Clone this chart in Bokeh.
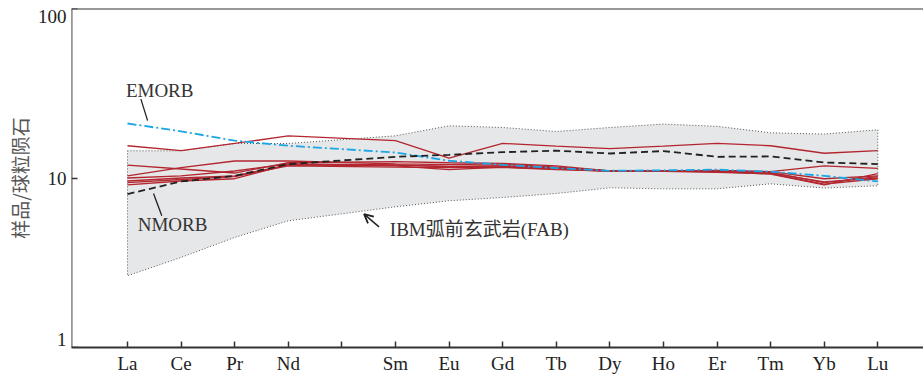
from bokeh.plotting import figure
from bokeh.models import FixedTicker, Span, Label, Arrow, OpenHead, LinearAxis, Range1d, LinearScale
from bokeh.embed import file_html
from bokeh.resources import INLINE

# ---- data -------------------------------------------------------------
elements = ["La", "Ce", "Pr", "Nd", "Pm", "Sm", "Eu", "Gd", "Tb", "Dy", "Ho", "Er", "Tm", "Yb", "Lu"]
ree = ["La", "Ce", "Pr", "Nd", "Sm", "Eu", "Gd", "Tb", "Dy", "Ho", "Er", "Tm", "Yb", "Lu"]
tick_labels = ["" if e == "Pm" else e for e in elements]
y_ticks = [1, 10, 100]
y_tick_labels = ["1", "10", "100"]

sample_1 = [15.5, 14.5, 16.0, 17.7, 16.6, 13.1, 16.0, 15.4, 14.9, 15.4, 16.0, 15.5, 14.0, 14.5]
sample_2 = [11.9, 11.3, 10.7, 12.3, 12.5, 12.3, 12.2, 11.8, 11.0, 11.0, 11.1, 10.9, 11.8, 11.4]
sample_3 = [10.3, 11.5, 12.6, 12.6, 12.1, 12.0, 12.1, 11.6, 11.0, 11.0, 11.0, 10.9, 9.9, 10.3]
sample_4 = [10.0, 10.3, 11.0, 12.1, 11.95, 11.65, 11.8, 11.5, 11.0, 11.0, 10.9, 10.7, 9.5, 10.0]
sample_5 = [9.6, 10.0, 10.3, 11.95, 11.8, 11.2, 11.6, 11.3, 10.95, 10.95, 10.8, 10.6, 9.2, 9.9]
sample_6 = [9.4, 9.8, 10.2, 11.8, 11.6, 11.5, 11.55, 11.2, 11.0, 11.0, 10.9, 10.55, 9.1, 10.6]
sample_7 = [9.1, 9.6, 9.9, 12.0, 11.9, 11.7, 11.8, 11.4, 11.0, 11.0, 11.0, 10.8, 9.4, 10.2]
samples = [sample_1, sample_2, sample_3, sample_4, sample_5, sample_6, sample_7]

nmorb = [8.04, 9.54, 10.3, 12.08, 13.34, 13.7, 14.2, 14.5, 13.95, 14.42, 13.34, 13.4, 12.35, 12.08]
emorb = [20.97, 18.86, 16.6, 15.5, 14.14, 12.64, 11.96, 11.44, 11.03, 11.1, 11.2, 10.9, 10.3, 9.54]

fab_upper = [14.47, 14.47, 15.98, 15.98, 17.74, 20.32, 19.86, 18.81, 19.86, 20.8, 20.18, 18.48, 18.16, 19.25]
fab_lower = [2.65, 3.40, 4.46, 5.59, 6.76, 7.34, 7.67, 8.10, 8.75, 8.63, 8.63, 9.24, 8.72, 9.0]

# ---- figure -----------------------------------------------------------
xpos = [elements.index(e) for e in ree]
X0, X1 = -1.045, 14.853
Y0, Y1 = 1, 100

p = figure(width=923, height=378, x_range=(X0, X1), y_range=(Y0, Y1),
           y_axis_type="log", output_backend="svg", toolbar_location=None,
           title=None,
           min_border_left=71, min_border_top=8, min_border_right=0, min_border_bottom=31)
p.outline_line_color = None
p.xgrid.visible = False
p.ygrid.visible = False

# FAB field
p.patch(xpos + xpos[::-1], fab_upper + fab_lower[::-1],
        fill_color="#e6e7e8", line_color="#555555", line_width=1, line_dash="1 2")

# samples
for s in samples:
    p.line(xpos, s, line_color="#b3262f", line_width=1.3)

p.line(xpos, emorb, line_color="#1ba6e6", line_width=1.8, line_dash="9 3 2 3")
p.line(xpos, nmorb, line_color="#222222", line_width=1.8, line_dash="7 4")

# top frame line
p.add_layout(Span(location=Y1, dimension="width", line_color="#333333", line_width=2))

# axes
for ax in (p.xaxis[0], p.yaxis[0]):
    ax.axis_label = None
    ax.axis_line_color = "#333333"
    ax.axis_line_width = 1.8
    ax.major_tick_line_color = "#333333"
    ax.major_tick_line_width = 1.5
    ax.major_tick_in = 6
    ax.major_tick_out = 0
    ax.minor_tick_in = 0
    ax.minor_tick_out = 0
    ax.major_label_text_font = "Liberation Serif"
    ax.major_label_text_font_size = "19px"
    ax.major_label_text_color = "#222222"

p.xaxis.ticker = FixedTicker(ticks=list(range(len(elements))))
p.xaxis.major_label_overrides = {i: t for i, t in enumerate(tick_labels)}
p.xaxis.major_label_standoff = 5

p.yaxis.ticker = FixedTicker(ticks=y_ticks)
p.yaxis.major_label_overrides = {t: "" for t in y_ticks}
p.yaxis.major_label_standoff = 0
p.yaxis.fixed_location = X0

# label axis in decades (log10 units); end labels nudged inside the frame
d = 0.0496
p.extra_y_ranges = {"lab": Range1d(-d, 2 + d)}
p.extra_y_scales = {"lab": LinearScale()}
lab_axis = LinearAxis(y_range_name="lab",
                      ticker=FixedTicker(ticks=[0, 1, 2]),
                      major_label_overrides={i: t for i, t in enumerate(y_tick_labels)},
                      axis_line_color=None, major_tick_line_color=None,
                      minor_tick_line_color=None,
                      major_tick_in=0, major_tick_out=0,
                      major_label_text_font="Liberation Serif",
                      major_label_text_font_size="19px",
                      major_label_text_color="#222222",
                      major_label_standoff=5,
                      axis_label="样品/球粒陨石",
                      axis_label_text_font="Noto Sans CJK SC",
                      axis_label_text_font_style="normal",
                      axis_label_text_font_size="19px",
                      axis_label_text_color="#555555",
                      axis_label_standoff=2)
p.add_layout(lab_axis, "left")

# annotations
p.add_layout(Label(x=-0.03, y=32.7, text="EMORB", text_font="Liberation Serif",
                   text_font_size="19px", text_color="#333333", text_baseline="middle"))
p.add_layout(Label(x=0.19, y=5.3, text="NMORB", text_font="Liberation Serif",
                   text_font_size="19px", text_color="#333333", text_baseline="middle"))
p.add_layout(Label(x=4.895, y=4.95, text="IBM弧前玄武岩(FAB)", text_font="Liberation Serif, Noto Sans CJK SC",
                   text_font_size="19px", text_color="#333333", text_baseline="middle"))

p.segment(x0=[0.25, 0.485], y0=[29.2, 8.1], x1=[0.375, 0.64], y1=[21.8, 5.98],
          line_color="#222222", line_width=1.3)
p.add_layout(Arrow(x_start=4.693, y_start=5.15, x_end=4.414, y_end=6.12,
                   line_color="#222222", line_width=1.5,
                   end=OpenHead(size=9, line_color="#222222", line_width=1.8)))

open("out.html", "w").write(file_html(p, INLINE))
